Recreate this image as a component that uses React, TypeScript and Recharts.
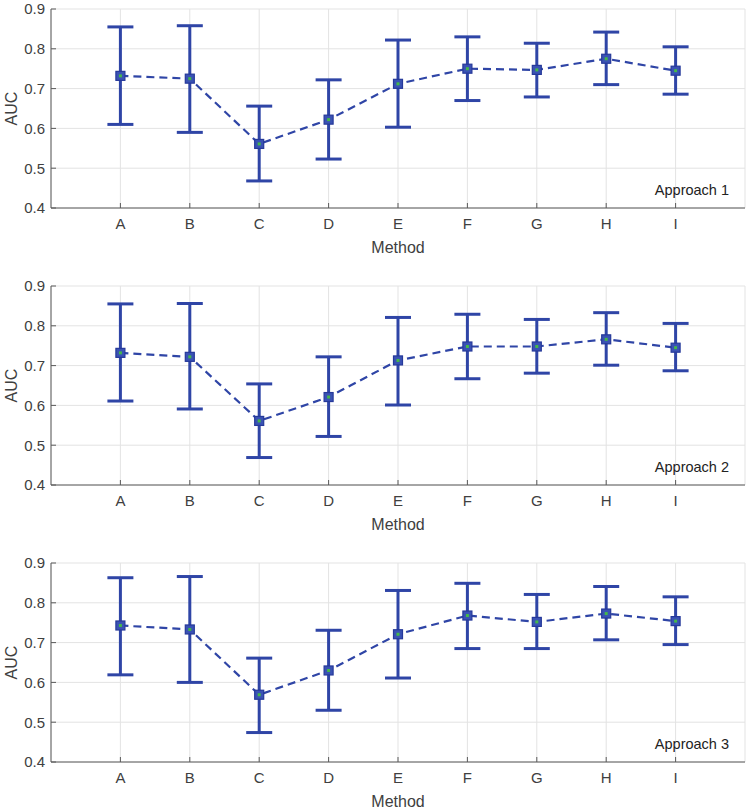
import React from "react";
import {
  LineChart,
  Line,
  XAxis,
  YAxis,
  CartesianGrid,
  ErrorBar,
  ReferenceArea,
} from "recharts";

// methods on the x axis
const methods = ["A", "B", "C", "D", "E", "F", "G", "H", "I"];
const yTicks = [0.4, 0.5, 0.6, 0.7, 0.8, 0.9];
const xTicks = [1, 2, 3, 4, 5, 6, 7, 8, 9];

// AUC means and the ends of each error bar
const approach1Mean = [0.732, 0.725, 0.561, 0.622, 0.712, 0.75, 0.747, 0.775, 0.745];
const approach1Low = [0.61, 0.59, 0.468, 0.523, 0.603, 0.67, 0.679, 0.71, 0.686];
const approach1High = [0.855, 0.858, 0.656, 0.722, 0.822, 0.83, 0.814, 0.842, 0.805];

const approach2Mean = [0.732, 0.722, 0.561, 0.621, 0.713, 0.748, 0.748, 0.766, 0.745];
const approach2Low = [0.611, 0.591, 0.469, 0.522, 0.601, 0.667, 0.681, 0.701, 0.687];
const approach2High = [0.855, 0.856, 0.654, 0.722, 0.821, 0.829, 0.816, 0.833, 0.806];

const approach3Mean = [0.743, 0.733, 0.569, 0.63, 0.721, 0.768, 0.752, 0.773, 0.754];
const approach3Low = [0.619, 0.6, 0.474, 0.53, 0.611, 0.685, 0.685, 0.707, 0.695];
const approach3High = [0.863, 0.866, 0.661, 0.731, 0.831, 0.849, 0.821, 0.841, 0.815];

const BLUE = "#2f45a6";
const GREEN = "#45b84a";
const TEXT = "#404040";
const AXIS = "#5a5a5a";
const FONT = "'Liberation Sans', Arial, sans-serif";

function buildRows(mean: number[], low: number[], high: number[]) {
  return methods.map((m, i) => ({
    x: i + 1,
    name: m,
    auc: mean[i],
    err: [+(mean[i] - low[i]).toFixed(3), +(high[i] - mean[i]).toFixed(3)],
  }));
}

const SquareDot = (props: any) => {
  const { cx, cy } = props;
  if (cx == null || cy == null) return null;
  return (
    <g>
      <rect x={cx - 4.5} y={cy - 4.5} width={9} height={9} fill="#3a52b4" stroke="#26399a" strokeWidth={1.2} />
      <rect x={cx - 1.5} y={cy - 1.5} width={3} height={3} fill={GREEN} />
    </g>
  );
};

const AucLabel = (props: any) => {
  const vb = props.viewBox || {};
  const cy = vb.y + vb.height / 2;
  return (
    <text
      x={11}
      y={cy}
      transform={`rotate(-90, 11, ${cy})`}
      textAnchor="middle"
      dominantBaseline="central"
      fill={TEXT}
      fontSize={16}
      fontFamily={FONT}
    >
      AUC
    </text>
  );
};

// "Approach n" tag in the lower right corner of the axes
const CornerTag = (title: string) => (props: any) => {
  const vb = props.viewBox || {};
  return (
    <text
      x={vb.x + vb.width - 16}
      y={vb.y + vb.height - 13}
      textAnchor="end"
      fill="#222"
      fontSize={14.5}
      fontFamily={FONT}
    >
      {title}
    </text>
  );
};

function Panel({ title, mean, low, high, top }: any) {
  const rows = buildRows(mean, low, high);
  return (
    <div style={{ position: "absolute", left: 0, top, width: 750, height: 255 }}>
      <LineChart
        width={750}
        height={255}
        data={rows}
        margin={{ top: 10, right: 5, left: 0, bottom: 0 }}
        style={{ fontFamily: FONT }}
      >
        <CartesianGrid stroke="#e3e3e3" strokeWidth={1} />
        <XAxis
          dataKey="x"
          type="number"
          domain={[0, 10]}
          ticks={xTicks}
          tickFormatter={(v: number) => methods[v - 1]}
          height={46}
          stroke={AXIS}
          tickSize={-5}
          tickMargin={15}
          tick={{ fill: TEXT, fontSize: 15 }}
          label={{ value: "Method", position: "insideBottom", offset: 1.5, fill: TEXT, fontSize: 16 }}
        />
        <XAxis
          xAxisId="top"
          orientation="top"
          dataKey="x"
          type="number"
          domain={[0, 10]}
          ticks={xTicks}
          height={0}
          stroke={AXIS}
          tickSize={-5}
          tick={false}
        />
        <YAxis
          domain={[0.4, 0.9]}
          ticks={yTicks}
          width={51}
          stroke={AXIS}
          tickSize={-5}
          tickMargin={11}
          tickFormatter={(v: number) => v.toFixed(1)}
          tick={{ fill: TEXT, fontSize: 15 }}
          label={<AucLabel />}
        />
        <YAxis
          yAxisId="right"
          orientation="right"
          domain={[0.4, 0.9]}
          ticks={yTicks}
          width={0}
          stroke={AXIS}
          tickSize={-5}
          tick={false}
        />
        <ReferenceArea
          x1={0}
          x2={10}
          y1={0.4}
          y2={0.9}
          fill="none"
          stroke="none"
          label={CornerTag(title)}
        />
        <Line
          dataKey="auc"
          stroke={BLUE}
          strokeWidth={2.2}
          strokeDasharray="8 5"
          dot={<SquareDot />}
          activeDot={false}
          isAnimationActive={false}
        >
          <ErrorBar dataKey="err" direction="y" width={13} stroke={BLUE} strokeWidth={3} />
        </Line>
      </LineChart>
    </div>
  );
}

export default function App() {
  return (
    <div style={{ position: "absolute", left: 0, top: 0, width: 750, height: 808, background: "#fff" }}>
      <Panel title="Approach 1" mean={approach1Mean} low={approach1Low} high={approach1High} top={-1} />
      <Panel title="Approach 2" mean={approach2Mean} low={approach2Low} high={approach2High} top={276} />
      <Panel title="Approach 3" mean={approach3Mean} low={approach3Low} high={approach3High} top={553} />
    </div>
  );
}
